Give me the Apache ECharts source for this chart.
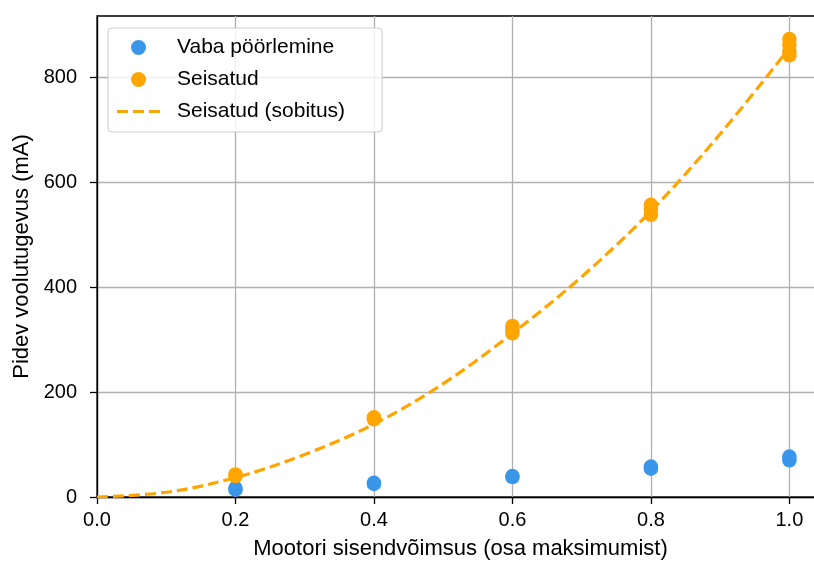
<!DOCTYPE html>
<html>
<head>
<meta charset="utf-8">
<script src="https://cdn.jsdelivr.net/npm/echarts@6/dist/echarts.min.js"></script>
<style>
  html, body { margin: 0; padding: 0; background: #fff; overflow: hidden; }
  #chart { width: 814px; height: 561px; }
</style>
</head>
<body>
<div id="chart"></div>
<script>
// Measured current (mA) against motor input power (fraction of maximum)
const freeX = [0.2, 0.2, 0.4, 0.4, 0.6, 0.6, 0.8, 0.8, 1.0, 1.0];
const freeY = [17, 14, 27, 25, 40, 38, 58, 54, 77, 70];

const stallX = [0.2, 0.2, 0.4, 0.4, 0.6, 0.6, 0.6, 0.8, 0.8, 0.8, 1.0, 1.0, 1.0, 1.0];
const stallY = [43, 40, 152, 148, 326, 319, 312, 557, 548, 538, 873, 862, 850, 842];

// Fitted curve for the stalled case
const fitX = [0, 0.1, 0.2, 0.3, 0.4, 0.5, 0.6, 0.7, 0.8, 0.9, 1.0];
const fitY = [0, 9, 37, 81, 139, 216, 312, 420, 545, 692, 856];

const xTicks = [0, 0.2, 0.4, 0.6, 0.8, 1.0];
const yTicks = [0, 200, 400, 600, 800];

const seriesNames = ['Vaba pöörlemine', 'Seisatud', 'Seisatud (sobitus)'];
const xName = 'Mootori sisendvõimsus (osa maksimumist)';
const yName = 'Pidev voolutugevus (mA)';

const pairs = (xs, ys) => xs.map((x, i) => [x, ys[i]]);

const BLUE = '#3a96e8';
const ORANGE = '#ffa500';
const FONT = '"Liberation Sans", Arial, sans-serif';

const chart = echarts.init(document.getElementById('chart'), null, { renderer: 'canvas' });

chart.setOption({
  animation: false,
  backgroundColor: '#fff',
  textStyle: { fontFamily: FONT },
  grid: {
    left: 97, top: 16, width: 727, height: 481,
    containLabel: false,
    outerBoundsMode: 'none',
    show: true, borderColor: '#000', borderWidth: 1.3, backgroundColor: 'transparent'
  },
  legend: {
    orient: 'vertical',
    left: 108, top: 28,
    padding: [9, 37, 10, 9],
    itemGap: 11,
    itemWidth: 43,
    itemHeight: 15,
    backgroundColor: 'rgba(255,255,255,0.8)',
    borderColor: '#cccccc',
    borderWidth: 1,
    borderRadius: 4,
    textStyle: { fontSize: 21, color: '#000', fontFamily: FONT, padding: [0, 0, 0, 12] },
    data: [
      { name: seriesNames[0], icon: 'circle', itemStyle: { color: BLUE } },
      { name: seriesNames[1], icon: 'circle', itemStyle: { color: ORANGE } },
      { name: seriesNames[2], icon: 'path://M0,0H11V3H0Z M16,0H27V3H16Z M32,0H43V3H32Z', itemStyle: { color: ORANGE } }
    ]
  },
  xAxis: {
    type: 'value',
    min: 0, max: 1.05,
    name: xName,
    nameLocation: 'middle',
    nameGap: 41,
    nameTextStyle: { fontSize: 22, color: '#000', fontFamily: FONT },
    axisLine: { show: true, onZero: false, lineStyle: { color: '#000', width: 1.3 } },
    axisTick: { show: true, length: 7, customValues: xTicks, lineStyle: { color: '#000', width: 1.3 } },
    axisLabel: {
      customValues: xTicks, margin: 13, fontSize: 20, color: '#000', fontFamily: FONT,
      formatter: v => v.toFixed(1)
    },
    splitLine: { show: true, lineStyle: { color: '#b0b0b0', width: 1.3 } }
  },
  yAxis: {
    type: 'value',
    min: 0, max: 917,
    name: yName,
    nameLocation: 'middle',
    nameGap: 64,
    nameTextStyle: { fontSize: 22, color: '#000', fontFamily: FONT },
    axisLine: { show: true, onZero: false, lineStyle: { color: '#000', width: 1.3 } },
    axisTick: { show: true, length: 7, customValues: yTicks, lineStyle: { color: '#000', width: 1.3 } },
    axisLabel: {
      customValues: yTicks, margin: 20, fontSize: 20, color: '#000', fontFamily: FONT
    },
    splitLine: { show: true, lineStyle: { color: '#b0b0b0', width: 1.3 } }
  },
  series: [
    {
      name: seriesNames[0],
      type: 'scatter',
      symbolSize: 14.5,
      itemStyle: { color: BLUE, opacity: 1 },
      data: pairs(freeX, freeY)
    },
    {
      name: seriesNames[1],
      type: 'scatter',
      symbolSize: 14.5,
      itemStyle: { color: ORANGE, opacity: 1 },
      data: pairs(stallX, stallY)
    },
    {
      name: seriesNames[2],
      type: 'line',
      smooth: 0.35,
      showSymbol: false,
      symbol: 'none',
      lineStyle: { color: ORANGE, width: 3.2, type: [11, 5] },
      itemStyle: { color: ORANGE },
      data: pairs(fitX, fitY)
    }
  ]
});
</script>
</body>
</html>
